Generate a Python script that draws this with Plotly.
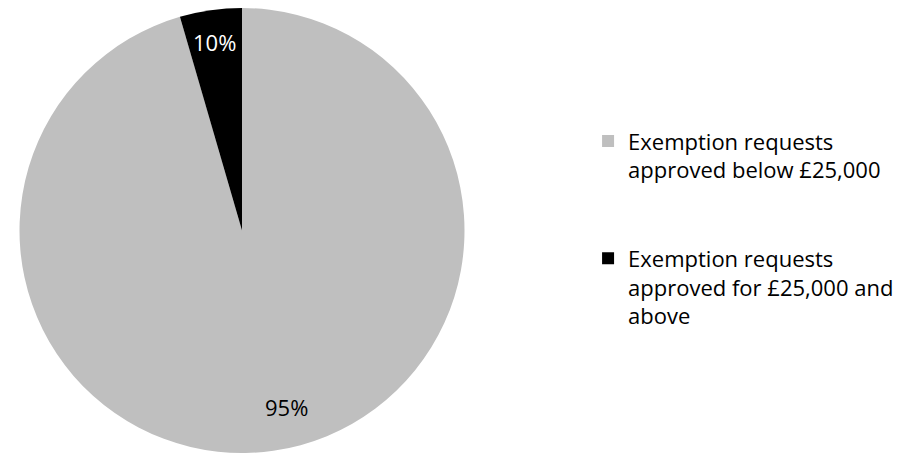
import math
import plotly.graph_objects as go

labels = ["Exemption requests<br>approved below £25,000<br> <br> ",
          "Exemption requests<br>approved for £25,000 and<br>above"]
values = [95.5, 4.5]
text_labels = ["95%", "10%"]
colors = ["#BFBFBF", "#000000"]
label_colors = ["#000000", "#FFFFFF"]

W, H = 916, 453
mt, mb = 8, 0
dom_x = [19 / W, 465 / W]
dom_y = [0, 1]
FONT = "Open Sans"

fig = go.Figure(go.Pie(
    labels=labels, values=values, sort=False, direction="clockwise", rotation=0,
    marker=dict(colors=colors, line=dict(width=0)),
    textinfo="none", hoverinfo="label",
    domain=dict(x=dom_x, y=dom_y),
))

# label positions derived from the data (radial factor + small nudge as style)
cx_px = (dom_x[0] + dom_x[1]) / 2 * W
plot_h = H - mt - mb
cy_px = mt + plot_h / 2
r_px = min((dom_x[1] - dom_x[0]) * W, plot_h) / 2
total = sum(values)
cum = 0
ks = [0.8, 0.855]
nudges = [19, -1]
annotations = []
for v, t, c, k, nx in zip(values, text_labels, label_colors, ks, nudges):
    mid = (cum + v / 2) / total * 2 * math.pi
    cum += v
    px = cx_px + k * r_px * math.sin(mid) + nx
    py = cy_px - k * r_px * math.cos(mid)
    annotations.append(dict(x=px / W, y=1 - (py - mt) / plot_h, xref="paper", yref="paper",
                            xanchor="center", yanchor="middle",
                            text=t, showarrow=False,
                            font=dict(size=22, color=c, family=FONT)))

fig.update_layout(
    width=W, height=H,
    margin=dict(l=0, r=0, t=mt, b=mb),
    paper_bgcolor="white", plot_bgcolor="white",
    font=dict(family=FONT, color="#000000"),
    annotations=annotations,
    legend=dict(x=0.642, y=0.748, xanchor="left", yanchor="top", valign="top",
                font=dict(size=22, family=FONT, color="#000000"),
                bgcolor="rgba(0,0,0,0)"),
    showlegend=True,
)

fig.write_html("out.html")
